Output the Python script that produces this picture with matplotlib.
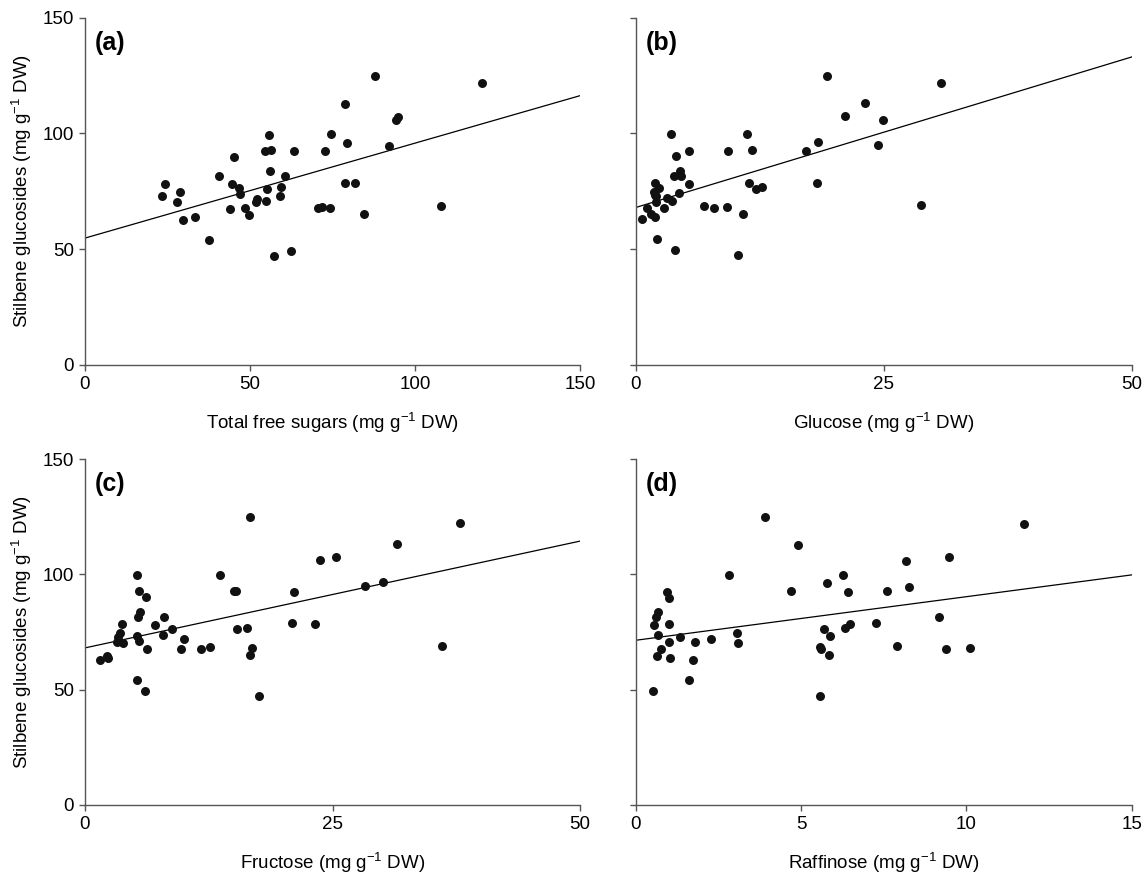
import matplotlib
matplotlib.use("Agg")
import matplotlib.pyplot as plt
import numpy as np

plt.rcParams["font.family"] = ["Liberation Sans", "DejaVu Sans"]
plt.rcParams["mathtext.default"] = "regular"

# --- data ---
# (a) total free sugars
sugar_x = [23.2, 24.2, 28.0, 28.7, 29.7, 33.2, 37.5, 40.5, 43.9, 44.6, 45.1, 46.6, 47.0,
           48.5, 49.7, 51.7, 52.1, 54.4, 54.9, 55.0, 55.9, 56.1, 56.5, 57.2, 59.0, 59.4,
           60.6, 62.3, 63.4, 70.7, 71.7, 72.6, 74.1, 74.4, 78.8, 78.8, 79.5, 81.8, 84.4,
           87.8, 92.0, 94.2, 94.8, 108.0, 120.2]
sugar_y = [73.1, 78.2, 70.2, 74.6, 62.7, 63.7, 54.0, 81.6, 67.3, 78.1, 89.9, 76.4, 73.8,
           67.9, 64.7, 70.5, 71.6, 92.4, 70.6, 75.9, 99.4, 83.6, 92.8, 47.1, 73.1, 76.8,
           81.6, 49.3, 92.4, 68.0, 68.3, 92.2, 67.7, 99.7, 112.7, 78.5, 96.0, 78.5, 65.1,
           124.9, 94.5, 105.6, 107.3, 68.7, 121.8]

# (b) glucose
glucose_x = [0.64, 1.1, 1.5, 1.9, 1.9, 2.4, 1.8, 1.95, 2.1, 2.2, 2.9, 3.2, 3.7, 3.6, 4.0,
             4.1, 3.9, 4.5, 4.6, 4.4, 5.4, 5.4, 6.9, 7.9, 9.2, 9.3, 10.8, 10.3, 11.2, 11.7,
             11.4, 12.1, 12.7, 17.2, 18.4, 18.3, 24.4, 24.9, 28.8, 30.8, 23.1, 21.1, 19.3, 2.0]
glucose_y = [63.0, 67.7, 65.0, 64.0, 78.4, 76.4, 74.8, 73.2, 70.5, 54.3, 68.0, 71.9, 70.9,
             99.7, 49.6, 90.1, 81.8, 83.9, 81.7, 74.1, 78.2, 92.5, 68.7, 68.0, 68.2, 92.5,
             65.3, 47.4, 99.9, 92.9, 78.8, 76.2, 76.9, 92.2, 96.3, 78.7, 94.8, 105.8, 68.9,
             121.8, 113.0, 107.6, 125.0, 72.9]

# (c) fructose
fructose_x = [1.55, 2.2, 2.35, 3.2, 3.3, 3.5, 3.7, 3.8, 5.25, 5.3, 5.5, 6.2, 5.6, 5.4, 5.3,
              5.45, 6.1, 6.3, 7.1, 8.0, 7.9, 8.75, 9.7, 10.0, 11.7, 12.65, 13.6, 15.1, 15.3,
              15.4, 16.4, 17.6, 16.9, 16.7, 20.9, 21.1, 23.2, 23.7, 25.4, 31.5, 28.3, 30.1,
              36.1, 37.9, 16.7]
fructose_y = [62.8, 64.6, 63.8, 70.6, 72.9, 74.6, 78.4, 70.3, 99.7, 54.1, 92.6, 90.0, 83.8,
              81.7, 73.3, 70.9, 49.3, 67.5, 78.1, 81.6, 73.9, 76.4, 67.8, 71.9, 67.8, 68.6,
              99.9, 92.8, 92.9, 76.1, 76.8, 47.1, 68.1, 65.2, 78.7, 92.3, 78.6, 106.1, 107.7,
              113.0, 94.8, 96.5, 68.8, 122.2, 125.0]

# (d) raffinose
raffinose_x = [0.53, 0.54, 0.62, 0.68, 0.67, 0.64, 0.76, 0.94, 1.01, 1.01, 1.01, 1.03, 1.35,
               1.61, 1.72, 1.79, 2.27, 2.82, 3.06, 3.08, 4.69, 4.91, 5.57, 5.58, 5.62, 5.71,
               5.86, 5.89, 5.79, 6.26, 6.41, 6.32, 6.47, 7.28, 7.6, 3.9, 11.75, 8.18, 9.48,
               8.26, 9.18, 7.9, 9.39, 10.12]
raffinose_y = [49.4, 78.1, 81.7, 83.7, 73.9, 64.8, 67.8, 92.5, 89.9, 78.4, 70.7, 63.8, 73.0,
               54.0, 62.8, 70.7, 71.9, 99.6, 74.7, 70.3, 92.9, 112.8, 47.3, 68.7, 67.8, 76.3,
               65.2, 73.2, 96.2, 99.7, 92.4, 76.8, 78.5, 78.8, 92.6, 125.0, 121.9, 105.9, 107.4,
               94.7, 81.7, 68.8, 67.5, 68.1]

# regression lines (intercept, slope)
fit_a = (54.8, 0.41)
fit_b = (68.0, 1.30)
fit_c = (68.1, 0.926)
fit_d = (71.4, 1.89)

panels = [
    ("(a)", sugar_x, sugar_y, fit_a, 150, [0, 50, 100, 150], "Total free sugars (mg g$^{-1}$ DW)"),
    ("(b)", glucose_x, glucose_y, fit_b, 50, [0, 25, 50], "Glucose (mg g$^{-1}$ DW)"),
    ("(c)", fructose_x, fructose_y, fit_c, 50, [0, 25, 50], "Fructose (mg g$^{-1}$ DW)"),
    ("(d)", raffinose_x, raffinose_y, fit_d, 15, [0, 5, 10, 15], "Raffinose (mg g$^{-1}$ DW)"),
]

fig = plt.figure(figsize=(11.47, 8.81), dpi=100)
boxes = [
    [0.0741, 0.5857, 0.4316, 0.3943],
    [0.5542, 0.5857, 0.4324, 0.3943],
    [0.0741, 0.0863, 0.4316, 0.3927],
    [0.5542, 0.0863, 0.4324, 0.3927],
]

for i, (label, xs, ys, fit, xmax, xticks, xlabel) in enumerate(panels):
    ax = fig.add_axes(boxes[i])
    ax.scatter(xs, ys, s=42, color="#111111", zorder=3, linewidths=0)
    line_x = np.array([0, xmax])
    ax.plot(line_x, fit[0] + fit[1] * line_x, color="black", linewidth=0.9)

    ax.set_xlim(0, xmax)
    ax.set_ylim(0, 150)
    ax.set_xticks(xticks)
    ax.set_yticks([0, 50, 100, 150])
    ax.spines["top"].set_visible(False)
    ax.spines["right"].set_visible(False)
    for sp in ("left", "bottom"):
        ax.spines[sp].set_color("#555555")
        ax.spines[sp].set_linewidth(1.0)
    ax.tick_params(direction="out", length=4, width=1.0, color="#555555",
                   labelsize=13.5, pad=4)
    ax.set_xlabel(xlabel, fontsize=13.5, labelpad=13)
    if i % 2 == 0:
        ax.set_ylabel("Stilbene glucosides (mg g$^{-1}$ DW)", fontsize=13.5, labelpad=6)
    else:
        ax.set_yticklabels([])
    ax.text(0.02, 0.928, label, transform=ax.transAxes, fontsize=18,
            fontweight="bold", ha="left", va="center")

plt.savefig("out.png", dpi=100)
plt.close()
